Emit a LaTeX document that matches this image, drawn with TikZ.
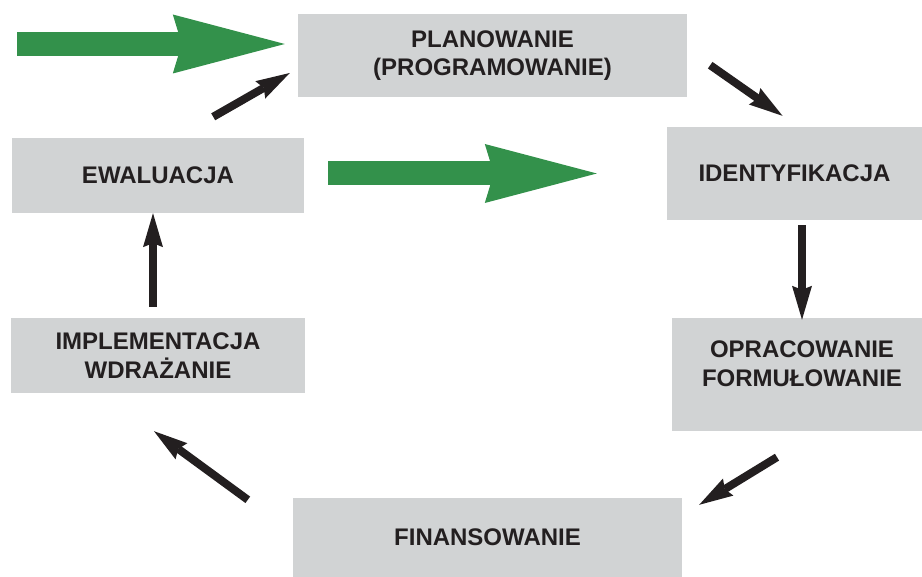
\documentclass[tikz,border=0pt]{standalone}
\usepackage{fontspec}
\setmainfont{Liberation Sans}
\usetikzlibrary{arrows.meta}
\definecolor{boxgray}{HTML}{D1D3D4}
\definecolor{arrgreen}{HTML}{33914B}
\definecolor{ink}{HTML}{231F20}

\begin{document}
\begin{tikzpicture}[x=1pt,y=1pt,
    lbl/.style={text=ink,font=\fontsize{24}{28.5}\selectfont\bfseries,align=center,inner sep=0pt},
    box/.style={lbl,fill=boxgray},
    blk/.style={draw=ink,line width=8pt,-{Stealth[length=34pt,width=20pt,inset=4pt,line width=0pt]}},
    grn/.style={draw=arrgreen,line width=24pt,-{Stealth[length=112pt,width=59pt,inset=9pt,line width=0pt]}}]
    \useasboundingbox (0,0) rectangle (922,577);
    % stages of the cycle
    \node[box,minimum width=389pt,minimum height=83pt] (plan) at (492.5,521.5) {PLANOWANIE\\(PROGRAMOWANIE)};
    \node[box,minimum width=255pt,minimum height=93pt] (ident) at (794.5,403.5) {IDENTYFIKACJA};
    \node[box,minimum width=250pt,minimum height=113pt] (oprac) at (797,202.5) {};
    \node[lbl] (oprac-t) at ([shift={(5,11)}]oprac.center) {OPRACOWANIE\\FORMUŁOWANIE};
    \node[box,minimum width=389pt,minimum height=79pt] (finans) at (487.5,39.5) {FINANSOWANIE};
    \node[box,minimum width=294pt,minimum height=75pt] (impl) at (158,221.5) {IMPLEMENTACJA\\WDRAŻANIE};
    \node[box,minimum width=292pt,minimum height=75pt] (ewal) at (158,401.5) {EWALUACJA};
    \coordinate (in) at (17,533);

    % green arrows
    \draw[grn] (in) -- ([shift={(-13,11.5)}]plan.west);
    \draw[grn] ([shift={(24,2)}]ewal.east) -- ([shift={(-70,0)}]ident.west);

    % the loop
    \draw[blk] ([shift={(23,32)}]plan.south east) -- ([shift={(-12,11)}]ident.north);
    \draw[blk] ([shift={(7.5,-5)}]ident.south) -- ([shift={(5,-2)}]oprac.north);
    \draw[blk] ([shift={(-20,-26)}]oprac.south) -- ([shift={(17,-7)}]finans.north east);
    \draw[blk] ([shift={(-45,-2)}]finans.north west) -- ([shift={(-4,-38)}]impl.south);
    \draw[blk] ([shift={(-5,11)}]impl.north) -- ([shift={(-5,0)}]ewal.south);
    \draw[blk] ([shift={(-91,21)}]ewal.north east) -- ([shift={(-8,-17.5)}]plan.west);
\end{tikzpicture}
\end{document}
